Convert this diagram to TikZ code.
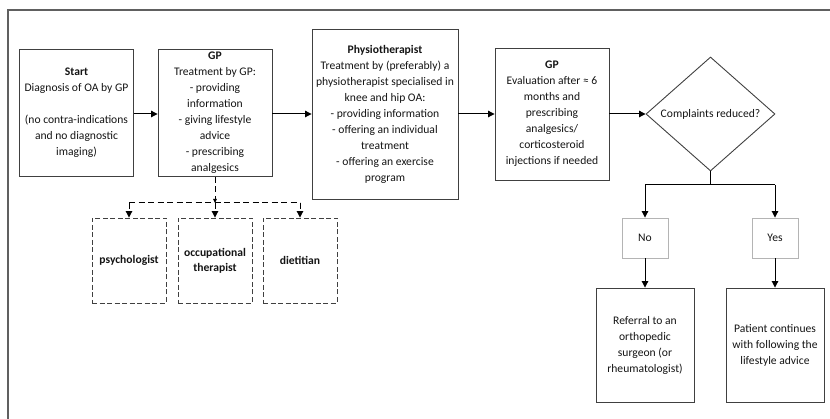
\documentclass[tikz,border=0pt]{standalone}
\usepackage{fontspec}
\setmainfont{Carlito}
\usetikzlibrary{shapes.geometric,arrows.meta}
\definecolor{boxline}{HTML}{404040}
\definecolor{lightline}{HTML}{B4B4B4}
\definecolor{frameline}{HTML}{606060}
\definecolor{txt}{HTML}{141414}
\begin{document}
\begin{tikzpicture}[x=1pt,y=-1pt,
  every node/.style={font=\fontsize{11.6}{16}\selectfont, text=txt},
  stepbox/.style={draw=boxline, line width=0.9pt, rectangle, align=center, inner sep=1pt},
  lightbox/.style={draw=lightline, line width=0.9pt, rectangle, align=center, inner sep=1pt, minimum width=46pt, minimum height=40pt},
  dashbox/.style={draw=boxline, line width=0.9pt, dash pattern=on 5pt off 2.5pt, rectangle, align=center, inner sep=1pt, minimum width=74pt, minimum height=85pt, font=\fontsize{11.6}{15}\selectfont\bfseries},
  conn/.style={line width=1pt, draw=black},
  arr/.style={conn, -{Triangle[length=6.5pt,width=6.5pt]}},
  dconn/.style={line width=1pt, draw=black, dash pattern=on 6pt off 3.5pt},
  darr/.style={dconn, -{Triangle[length=6.5pt,width=6.5pt]}}
]
\useasboundingbox (0,0) rectangle (830,419);
% outer frame (top and left edges only visible)
\draw[frameline, line width=1.2pt] (8,419) -- (8,10) -- (830,10);

\node[stepbox, minimum width=114pt, minimum height=127pt] (start) at (76.5,113)
  {\textbf{Start}\\Diagnosis of OA by GP\\[16pt](no contra-indications\\and no diagnostic\\imaging)};
\node[stepbox, minimum width=114pt, minimum height=127pt] (gp) at (215,113)
  {\textbf{GP}\\Treatment by GP:\\- providing\\information\\- giving lifestyle\\advice\\- prescribing\\analgesics};
\node[stepbox, minimum width=146pt, minimum height=170pt] (physio) at (385,114)
  {\textbf{Physiotherapist}\\Treatment by (preferably) a\\physiotherapist specialised in\\knee and hip OA:\\- providing information\\- offering an individual\\treatment\\- offering an exercise\\program};
\node[stepbox, minimum width=114pt, minimum height=132pt] (gp2) at (552,114)
  {\textbf{GP}\\Evaluation after ≈ 6\\months and\\prescribing\\analgesics/\\corticosteroid\\injections if needed};
\node[draw=boxline, line width=0.9pt, diamond, inner sep=0pt, aspect=1.13,
  minimum width=129pt, minimum height=114pt] (dia) at (710.5,114) {Complaints reduced?};

\node[lightbox] (no) at (645,238) {No};
\node[lightbox] (yes) at (775,238) {Yes};
\node[stepbox, minimum width=98pt, minimum height=114pt] (ref) at (645,345)
  {Referral to an\\orthopedic\\surgeon (or\\rheumatologist)};
\node[stepbox, minimum width=98pt, minimum height=114pt] (pat) at (775,345)
  {Patient continues\\with following the\\lifestyle advice};

\node[dashbox] (psy) at (129,260.5) {psychologist};
\node[dashbox] (ot) at (215,260.5) {occupational\\therapist};
\node[dashbox] (diet) at (300,260.5) {dietitian};

% main flow
\draw[arr] (start.east |- 0,114) -- (gp.west |- 0,114);
\draw[arr] (gp.east |- 0,114) -- (physio.west |- 0,114);
\draw[arr] (physio.east |- 0,114) -- (gp2.west |- 0,114);
\draw[arr] (gp2.east |- 0,114) -- (dia.west);

% referral tree (dashed)
\coordinate (jm) at (215,203);
\coordinate (jl) at (psy.north |- jm);
\coordinate (jr) at (diet.north |- jm);
\draw[dconn, -{Triangle[length=4pt,width=3.5pt]}] (gp.south) -- (jm);
\draw[dconn] (jl) -- (jr);
\draw[darr] (jl) -- (psy.north);
\draw[darr] (jm) -- (ot.north);
\draw[darr] (jr) -- (diet.north);

% decision tree
\coordinate (dm) at (710.5,185);
\coordinate (dl) at (no.north |- dm);
\coordinate (dr) at (yes.north |- dm);
\draw[conn] (dia.south) -- (dm);
\draw[conn] (dl) -- (dr);
\draw[arr] (dl) -- (no.north);
\draw[arr] (dr) -- (yes.north);
\draw[arr] (no.south) -- (ref.north);
\draw[arr] (yes.south) -- (pat.north);
\end{tikzpicture}
\end{document}
